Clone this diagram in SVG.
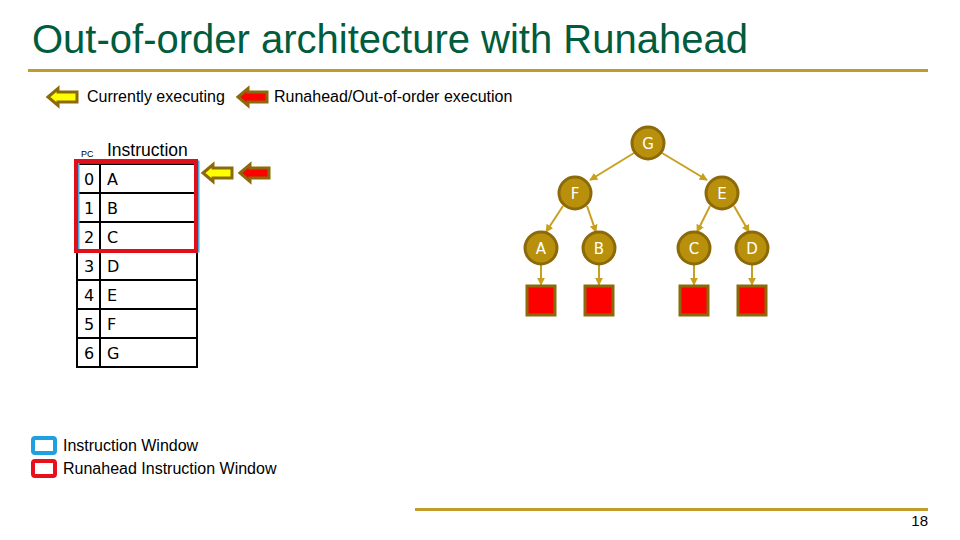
<svg xmlns="http://www.w3.org/2000/svg" width="960" height="540" viewBox="0 0 960 540">
<style>
.t{font-family:"Liberation Sans",Arial,sans-serif;fill:#000}
.n circle{fill:#B8900C;stroke:#8C6A0A;stroke-width:3}
.n text{font-family:"DejaVu Sans","Liberation Sans",sans-serif;font-size:15px;fill:#fff;text-anchor:middle}
.sq{fill:#FF0000;stroke:#8C6A0A;stroke-width:3}
.cell{fill:#fff;stroke:#000;stroke-width:2}
.ct{font-family:"DejaVu Sans","Liberation Sans",sans-serif;font-size:16px;fill:#000}
.edge{stroke:#C8A020;stroke-width:2;fill:none;marker-end:url(#ah)}
.ya{fill:#FFFF00;stroke:#8C6A0A;stroke-width:3}
.ra{fill:#FF0000;stroke:#8C6A0A;stroke-width:3}
</style>
<defs>
<marker id="ah" viewBox="0 0 10 10" refX="9" refY="5" markerWidth="4" markerHeight="4" orient="auto">
<path d="M0,0 L10,5 L0,10 z" fill="#C8A020"/>
</marker>
<path id="arrow" d="M0,0 L10,-8.5 L10,-5 L29,-5 L29,5 L10,5 L10,8.5 z"/>
</defs>
<rect width="960" height="540" fill="#fff"/>
<text class="t" x="32" y="53" style="font-size:40px;fill:#005C3C">Out-of-order architecture with Runahead</text>
<rect x="28" y="69" width="900" height="3" fill="#C39B2A"/>
<rect x="415" y="508" width="513" height="3" fill="#C39B2A"/>
<text class="t" x="928" y="526" text-anchor="end" style="font-size:15px">18</text>

<g id="legend-arrows">
<use href="#arrow" x="48" y="97" class="ya"/>
<text class="t" x="87" y="102" style="font-size:16px">Currently executing</text>
<use href="#arrow" x="238" y="97" class="ra"/>
<text class="t" x="274" y="102" style="font-size:16px">Runahead/Out-of-order execution</text>
</g>

<g id="table">
<text class="t" x="81" y="157" style="font-size:9px">PC</text>
<text class="t" x="107" y="156" style="font-size:17.5px">Instruction</text>
<g id="row0"><rect class="cell" x="77" y="164" width="23" height="29"/><rect class="cell" x="100" y="164" width="97" height="29"/><text class="ct" x="84" y="185">0</text><text class="ct" x="107" y="185">A</text></g>
<g id="row1"><rect class="cell" x="77" y="193" width="23" height="29"/><rect class="cell" x="100" y="193" width="97" height="29"/><text class="ct" x="84" y="214">1</text><text class="ct" x="107" y="214">B</text></g>
<g id="row2"><rect class="cell" x="77" y="222" width="23" height="29"/><rect class="cell" x="100" y="222" width="97" height="29"/><text class="ct" x="84" y="243">2</text><text class="ct" x="107" y="243">C</text></g>
<g id="row3"><rect class="cell" x="77" y="251" width="23" height="29"/><rect class="cell" x="100" y="251" width="97" height="29"/><text class="ct" x="84" y="272">3</text><text class="ct" x="107" y="272">D</text></g>
<g id="row4"><rect class="cell" x="77" y="280" width="23" height="29"/><rect class="cell" x="100" y="280" width="97" height="29"/><text class="ct" x="84" y="301">4</text><text class="ct" x="107" y="301">E</text></g>
<g id="row5"><rect class="cell" x="77" y="309" width="23" height="29"/><rect class="cell" x="100" y="309" width="97" height="29"/><text class="ct" x="84" y="330">5</text><text class="ct" x="107" y="330">F</text></g>
<g id="row6"><rect class="cell" x="77" y="338" width="23" height="29"/><rect class="cell" x="100" y="338" width="97" height="29"/><text class="ct" x="84" y="359">6</text><text class="ct" x="107" y="359">G</text></g>
</g>

<g id="windows">
<rect x="78" y="162" width="120" height="89" fill="none" stroke="#4AA8DC" stroke-width="3"/>
<rect x="76" y="161" width="120" height="90" fill="none" stroke="#E0101A" stroke-width="4"/>
</g>

<g id="pointer-arrows">
<use href="#arrow" x="203" y="173" class="ya"/>
<use href="#arrow" x="240" y="173" class="ra"/>
</g>

<g id="connectors">
<line class="edge" x1="634" y1="153" x2="590" y2="180"/>
<line class="edge" x1="662" y1="153" x2="707" y2="180"/>
<line class="edge" x1="563" y1="206" x2="546" y2="232"/>
<line class="edge" x1="587" y1="206" x2="596" y2="232"/>
<line class="edge" x1="710" y1="206" x2="697" y2="232"/>
<line class="edge" x1="734" y1="206" x2="749" y2="232"/>
<line class="edge" x1="541" y1="265" x2="541" y2="285"/>
<line class="edge" x1="599" y1="265" x2="599" y2="285"/>
<line class="edge" x1="694" y1="265" x2="694" y2="285"/>
<line class="edge" x1="752" y1="265" x2="752" y2="285"/>
</g>

<g id="node-G" class="n"><circle cx="648" cy="143" r="16"/><text x="648" y="148.5">G</text></g>
<g id="node-F" class="n"><circle cx="575" cy="193" r="16"/><text x="575" y="198.5">F</text></g>
<g id="node-E" class="n"><circle cx="722" cy="193" r="16"/><text x="722" y="198.5">E</text></g>
<g id="node-A" class="n"><circle cx="541" cy="248" r="16"/><text x="541" y="253.5">A</text></g>
<g id="node-B" class="n"><circle cx="599" cy="248" r="16"/><text x="599" y="253.5">B</text></g>
<g id="node-C" class="n"><circle cx="694" cy="248" r="16"/><text x="694" y="253.5">C</text></g>
<g id="node-D" class="n"><circle cx="752" cy="248" r="16"/><text x="752" y="253.5">D</text></g>
<g id="leaf-A"><rect class="sq" x="527" y="286" width="28" height="29"/></g>
<g id="leaf-B"><rect class="sq" x="585" y="286" width="28" height="29"/></g>
<g id="leaf-C"><rect class="sq" x="680" y="286" width="28" height="29"/></g>
<g id="leaf-D"><rect class="sq" x="738" y="286" width="28" height="29"/></g>

<g id="window-legend">
<rect x="33" y="438" width="22" height="15" rx="2" fill="#fff" stroke="#1FA0E0" stroke-width="4"/>
<text class="t" x="63" y="451" style="font-size:16px">Instruction Window</text>
<rect x="33" y="461" width="22" height="15" rx="2" fill="#fff" stroke="#E8101A" stroke-width="4"/>
<text class="t" x="63" y="474" style="font-size:16px">Runahead Instruction Window</text>
</g>
</svg>
